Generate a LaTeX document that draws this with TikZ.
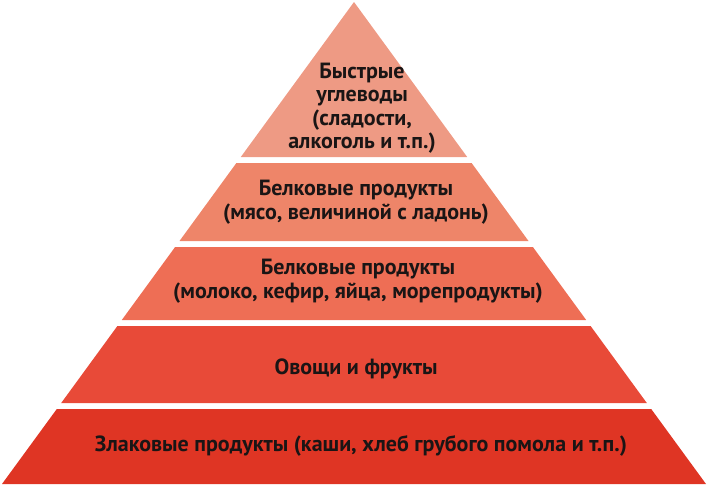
\documentclass[tikz,border=0pt]{standalone}
\usepackage{fontspec}
\setmainfont{PT Sans}
\definecolor{tierone}{HTML}{EE9A84}
\definecolor{tiertwo}{HTML}{EE8569}
\definecolor{tierthree}{HTML}{EE6E55}
\definecolor{tierfour}{HTML}{E84A38}
\definecolor{tierfive}{HTML}{DF3524}
\definecolor{labeltext}{HTML}{1A1515}

\begin{document}
\begin{tikzpicture}[
        x=1pt, y=-1pt,
        layer/.style={draw=none},
        lbl/.style={font=\bfseries\fontsize{22}{23.5}\selectfont, text=labeltext, align=center, inner sep=0pt}
      ]

    \useasboundingbox (0,0) rectangle (708,488);

    % pyramid layers, top to bottom
    \fill[layer, fill=tierone] (354,2) -- (467.2,157) -- (240.8,157) -- cycle;
    \fill[layer, fill=tiertwo] (236.4,163) -- (471.6,163) -- (528.5,241) -- (179.5,241) -- cycle;
    \fill[layer, fill=tierthree] (175.1,247) -- (532.9,247) -- (586.2,320) -- (121.8,320) -- cycle;
    \fill[layer, fill=tierfour] (117.4,326) -- (590.6,326) -- (646.8,403) -- (61.2,403) -- cycle;
    \fill[layer, fill=tierfive] (56.8,409) -- (651.2,409) -- (706,484) -- (2,484) -- cycle;

    % labels
    \node[lbl] (sweets) at (362,108) {Быстрые\\углеводы\\(сладости,\\алкоголь и т.п.)};
    \node[lbl] (meat) at (356,202) {Белковые продукты\\(мясо, величиной с ладонь)};
    \node[lbl] (dairy) at (358,281) {Белковые продукты\\(молоко, кефир, яйца, морепродукты)};
    \node[lbl] (veg) at (356,369) {Овощи и фрукты};
    \node[lbl] (grains) at (361,446) {Злаковые продукты (каши, хлеб грубого помола и т.п.)};

\end{tikzpicture}
\end{document}
